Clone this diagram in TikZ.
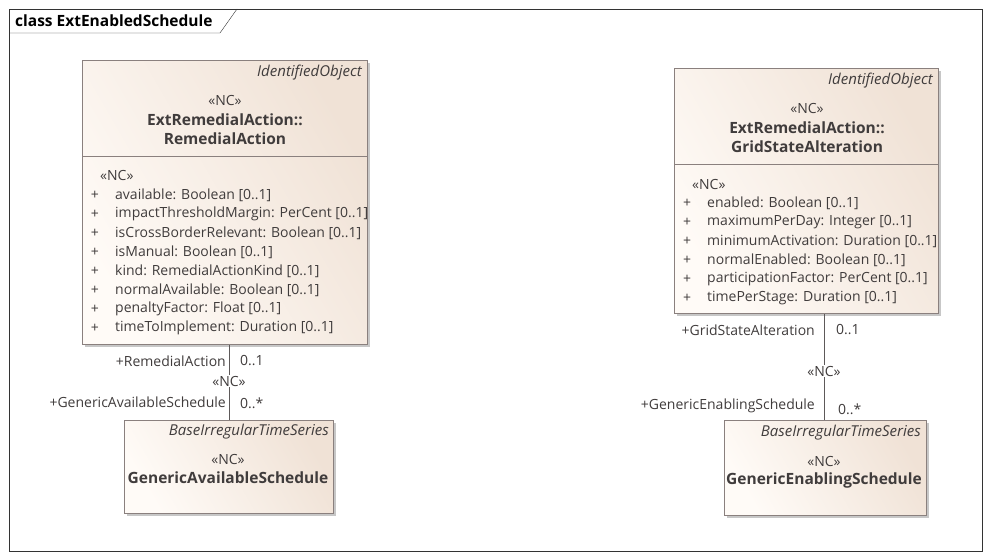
\documentclass[tikz,border=0pt]{standalone}
\usepackage{fontspec}
\setmainfont{Open Sans}
\usetikzlibrary{calc,shadows}
\definecolor{Ufill}{RGB}{255,251,247}
\definecolor{Ufilldark}{RGB}{240,226,214}
\definecolor{Uline}{RGB}{138,128,126}
\definecolor{Utext}{RGB}{64,60,60}
\tikzset{
  umlbox/.style={draw=Uline, thick, left color=Ufill, right color=Ufilldark, shading angle=120,
    anchor=north west, inner sep=0pt,
    drop shadow={shadow xshift=3pt, shadow yshift=-3pt, fill=black!22, opacity=1}},
  sepline/.style={draw=Uline, thick},
  assoc/.style={draw=Utext!85, semithick},
  txt/.style={inner sep=0pt, text=Utext, font=\fontsize{14}{17}\selectfont},
  parent/.style={txt, anchor=east, font=\fontsize{15}{17}\selectfont\itshape},
  cname/.style={txt, font=\fontsize{15.5}{17}\selectfont\bfseries},
  role/.style={txt, fill=white, inner sep=1pt}
}
\begin{document}
\begin{tikzpicture}[x=1pt,y=-1pt]
  \useasboundingbox (0,0) rectangle (991,559);
  % frame and title tab
  \draw[black!80] (9,9) rectangle (982,551);
  \draw[black!80] (9,33) -- (220,33) -- (237,9);
  \node[anchor=west, inner sep=0pt, font=\fontsize{15.5}{17}\selectfont\bfseries] (title) at (15,21) {class ExtEnabledSchedule};

  % ExtRemedialAction::RemedialAction
  \node[umlbox, minimum width=285pt, minimum height=284pt] (ra) at (82,60) {};
  \draw[sepline] (82,156) -- (367,156);
  \node[parent] (raP) at (362,73) {IdentifiedObject};
  \node[txt] (raS) at (225,100) {«NC»};
  \node[cname] (raN1) at (225,120) {ExtRemedialAction::};
  \node[cname] (raN2) at (225,139) {RemedialAction};
  \node[txt, anchor=west] (raA) at (100,175) {«NC»};
  \foreach \attr [count=\i from 0] in {available: Boolean [0..1],
      impactThresholdMargin: PerCent [0..1],
      isCrossBorderRelevant: Boolean [0..1],
      isManual: Boolean [0..1],
      kind: RemedialActionKind [0..1],
      normalAvailable: Boolean [0..1],
      penaltyFactor: Float [0..1],
      timeToImplement: Duration [0..1]} {
    \node[txt] at (95,195+19*\i) {+};
    \node[txt, anchor=west] at (115,195+19*\i) {\attr};
  }

  % GenericAvailableSchedule
  \node[umlbox, minimum width=209pt, minimum height=93pt] (gas) at (124,420) {};
  \node[parent] (gasP) at (329,432) {BaseIrregularTimeSeries};
  \node[txt] (gasS) at (228,459) {«NC»};
  \node[cname] (gasN) at (228,478) {GenericAvailableSchedule};

  % ExtRemedialAction::GridStateAlteration
  \node[umlbox, minimum width=264pt, minimum height=245pt] (gsa) at (674,68) {};
  \draw[sepline] (674,164) -- (938,164);
  \node[parent] (gsaP) at (933,81) {IdentifiedObject};
  \node[txt] (gsaS) at (807,109) {«NC»};
  \node[cname] (gsaN1) at (807,128) {ExtRemedialAction::};
  \node[cname] (gsaN2) at (807,147) {GridStateAlteration};
  \node[txt, anchor=west] (gsaA) at (692,184) {«NC»};
  \foreach \attr [count=\i from 0] in {enabled: Boolean [0..1],
      maximumPerDay: Integer [0..1],
      minimumActivation: Duration [0..1],
      normalEnabled: Boolean [0..1],
      participationFactor: PerCent [0..1],
      timePerStage: Duration [0..1]} {
    \node[txt] at (687,203+19*\i) {+};
    \node[txt, anchor=west] at (707,203+19*\i) {\attr};
  }

  % GenericEnablingSchedule
  \node[umlbox, minimum width=202pt, minimum height=95pt] (ges) at (724,420) {};
  \node[parent] (gesP) at (921,433) {BaseIrregularTimeSeries};
  \node[txt] (gesS) at (824,461) {«NC»};
  \node[cname] (gesN) at (824,480) {GenericEnablingSchedule};

  % associations
  \draw[assoc] (gas.north -| 229,0) -- (ra.south -| 229,0);
  \node[role] (a1s) at (229,381) {«NC»};
  \node[role, anchor=east] (a1r1) at (227,361) {+RemedialAction};
  \node[txt, anchor=west] (a1m1) at (240,361) {0..1};
  \node[role, anchor=east] (a1r2) at (227,402) {+GenericAvailableSchedule};
  \node[role, anchor=west] (a1m2) at (239,403) {0..*};

  \draw[assoc] (ges.north -| 824,0) -- (gsa.south -| 824,0);
  \node[role] (a2s) at (824,371) {«NC»};
  \node[txt, anchor=east] (a2r1) at (815,330) {+GridStateAlteration};
  \node[txt, anchor=west] (a2m1) at (836,330) {0..1};
  \node[txt, anchor=east] (a2r2) at (815,406) {+GenericEnablingSchedule};
  \node[txt, anchor=west] (a2m2) at (838,409) {0..*};
\end{tikzpicture}
\end{document}
